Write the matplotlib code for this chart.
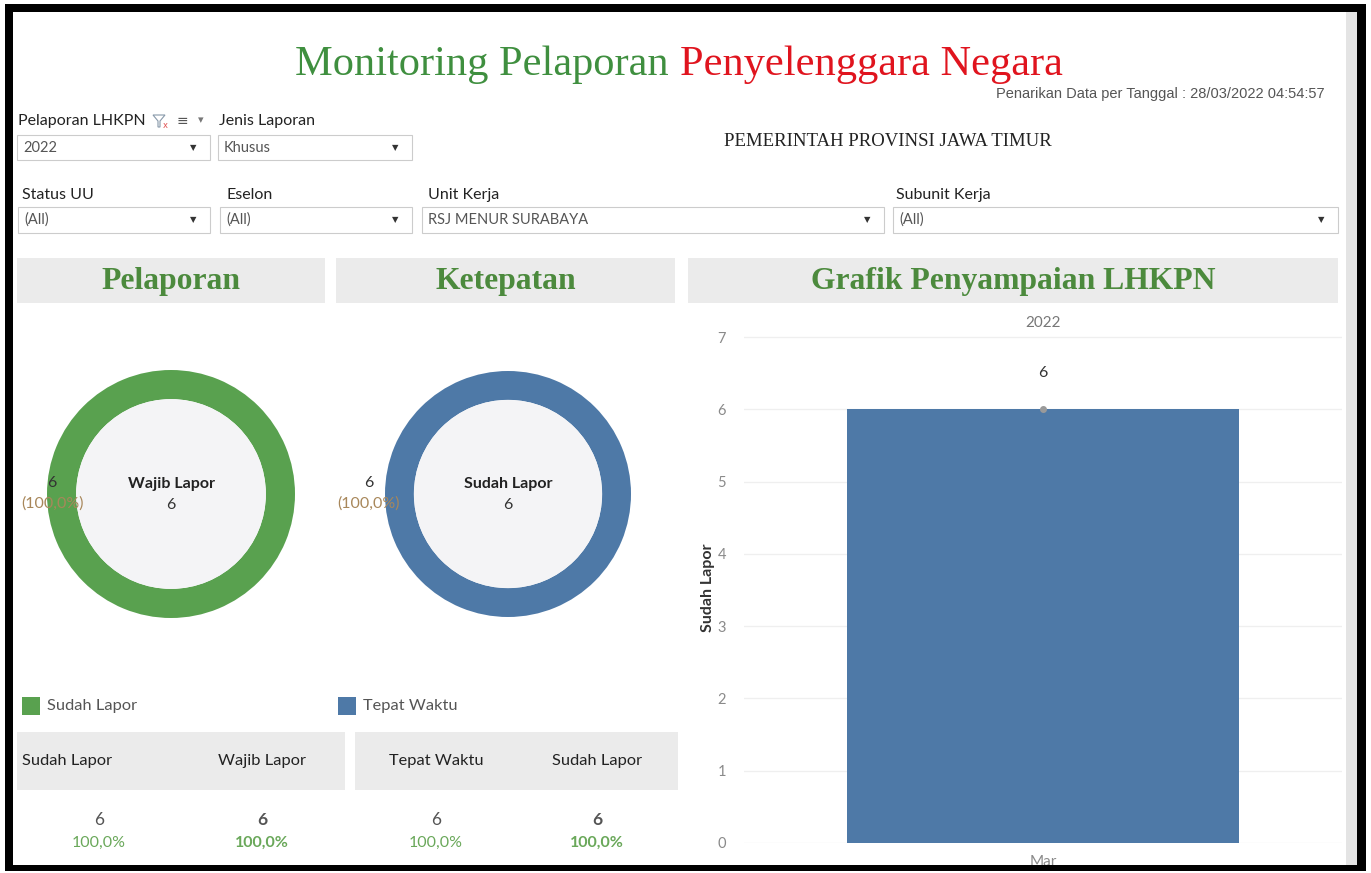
import numpy as np
import matplotlib
matplotlib.use('Agg')
import matplotlib.pyplot as plt
from matplotlib.patches import Rectangle, Circle, Polygon

W, H = 1371, 873

# ---- data ----
judul_hijau = 'Monitoring Pelaporan '
judul_merah = 'Penyelenggara Negara'
tanggal = 'Penarikan Data per Tanggal : 28/03/2022 04:54:57'
instansi = 'PEMERINTAH PROVINSI JAWA TIMUR'

filter_labels = ['Pelaporan LHKPN', 'Jenis Laporan', 'Status UU', 'Eselon', 'Unit Kerja', 'Subunit Kerja']
filter_values = ['2022', 'Khusus', '(All)', '(All)', 'RSJ MENUR SURABAYA', '(All)']

section_titles = ['Pelaporan', 'Ketepatan', 'Grafik Penyampaian LHKPN']

wajib_lapor = 6
sudah_lapor = 6
tepat_waktu = 6

tahun = '2022'
bulan = ['Mar']
sudah_lapor_bulanan = [6]
y_ticks = [0, 1, 2, 3, 4, 5, 6, 7]

# ---- styles ----
GREEN = '#59a14f'
BLUE = '#4e79a7'
TITLE_GREEN = '#3f8f3f'
TITLE_RED = '#e0141e'
HEAD_GREEN = '#4c8a3d'
PCT_GREEN = '#6aa85a'
PCT_BROWN = '#a8875a'
PANEL = '#ebebeb'
SANS = ['Lato', 'DejaVu Sans']
SERIF = ['Liberation Serif', 'DejaVu Serif']

plt.rcParams['font.family'] = SANS

fig = plt.figure(figsize=(W / 100, H / 100), dpi=100)
fig.patch.set_facecolor('white')

bg = fig.add_axes([0, 0, 1, 1])
bg.set_xlim(0, W)
bg.set_ylim(H, 0)
bg.axis('off')


def px_axes(x0, y0, x1, y1):
    return fig.add_axes([x0 / W, 1 - y1 / H, (x1 - x0) / W, (y1 - y0) / H])


def box(x0, y0, x1, y1, fc, ec='none', lw=0.8, z=1):
    bg.add_patch(Rectangle((x0, y0), x1 - x0, y1 - y0, facecolor=fc, edgecolor=ec, lw=lw, zorder=z))


def pct_text(n, d):
    return f'{n / d * 100:.1f}'.replace('.', ',') + '%'


# scroll strip on the right
box(1346, 12, 1357, 866, '#e4e4e4')

# ---- title ----
t1 = bg.text(0, 75, judul_hijau, color=TITLE_GREEN, fontsize=30.5, family=SERIF, va='baseline')
t2 = bg.text(0, 75, judul_merah, color=TITLE_RED, fontsize=30.5, family=SERIF, va='baseline')
fig.canvas.draw()
w1 = t1.get_window_extent().width
w2 = t2.get_window_extent().width
x_start = 679 - (w1 + w2) / 2
t1.set_x(x_start)
t2.set_x(x_start + w1)

bg.text(1325, 94, tanggal, color='#555555', fontsize=10.5, family=['Liberation Sans', 'DejaVu Sans'],
        ha='right', va='center')
bg.text(888, 142, instansi, color='#222222', fontsize=13.5, family=SERIF, ha='center', va='center')

# ---- filters ----
label_pos = [(18, 121), (219, 121), (22, 195), (226, 195), (428, 195), (896, 195)]
box_pos = [(17, 135, 210, 160), (218, 135, 412, 160), (18, 207, 210, 233),
           (220, 207, 412, 233), (422, 207, 884, 233), (893, 207, 1338, 233)]
for lab, val, (lx, ly), (x0, y0, x1, y1) in zip(filter_labels, filter_values, label_pos, box_pos):
    bg.text(lx, ly, lab, fontsize=11.5, color='#222222', va='center')
    box(x0, y0, x1, y1, 'white', '#cccccc')
    bg.text(x0 + 6, (y0 + y1) / 2, val, fontsize=10.5, color='#555555', va='center')
    bg.text(x1 - 17, (y0 + y1) / 2, '\u25bc', fontsize=6, color='#333333', va='center', ha='center',
            family='DejaVu Sans')

# small icons next to "Pelaporan LHKPN"
bg.add_patch(Polygon([(153, 115), (165, 115), (160, 121), (160, 127), (158, 127), (158, 121)],
                     closed=True, facecolor='none', edgecolor='#8899aa', lw=0.8))
bg.text(165, 125, 'x', fontsize=6, color='#e05050', ha='center', va='center', family='DejaVu Sans')
bg.text(182, 121, '\u2261', fontsize=10, color='#555555', ha='center', va='center', family='DejaVu Sans')
bg.text(201, 120, '\u25be', fontsize=8, color='#777777', ha='center', va='center', family='DejaVu Sans')

# ---- section headers ----
head_pos = [(17, 258, 325, 303), (336, 258, 675, 303), (688, 258, 1338, 303)]
for txt, (x0, y0, x1, y1) in zip(section_titles, head_pos):
    box(x0, y0, x1, y1, PANEL)
    bg.text((x0 + x1) / 2, (y0 + y1) / 2 + 1, txt, fontsize=22.8, fontweight='bold', color=HEAD_GREEN,
            family=SERIF, ha='center', va='center')


# ---- donuts ----
def donut(cx, cy, r, value, total, color, center_label, center_value, label_x):
    ax = px_axes(cx - r, cy - r, cx + r, cy + r)
    vals = [v for v in (value, total - value) if v > 0]
    cols = [color, '#dddddd'][:len(vals)]
    ax.pie(vals, colors=cols, startangle=90, counterclock=False, radius=1,
           wedgeprops=dict(width=0.235, edgecolor='none'))
    ax.add_patch(Circle((0, 0), 1 - 0.235, facecolor='#f4f4f6', edgecolor='none'))
    ax.set_xlim(-1, 1)
    ax.set_ylim(-1, 1)
    ax.axis('off')
    ax.text(0, 0.08, center_label, fontsize=11.5, fontweight='bold', color='#222222', ha='center', va='center')
    ax.text(0, -0.09, str(center_value), fontsize=11.5, color='#333333', ha='center', va='center')
    # mark labels sit on the left edge of the ring, drawn above it
    ax.text(label_x, cy - 11, str(value), fontsize=11.5, color='#333333', ha='center', va='center',
            transform=bg.transData, zorder=5)
    ax.text(label_x, cy + 10, '(' + pct_text(value, total) + ')', fontsize=11.5,
            color=PCT_BROWN, ha='center', va='center', transform=bg.transData, zorder=5)


donut(171, 494, 124, sudah_lapor, wajib_lapor, GREEN, 'Wajib Lapor', wajib_lapor, 52)
donut(508, 494, 123, tepat_waktu, sudah_lapor, BLUE, 'Sudah Lapor', sudah_lapor, 369)

# ---- legends ----
box(22, 697, 40, 715, GREEN)
bg.text(47, 706, 'Sudah Lapor', fontsize=11.8, color='#555555', va='center')
box(338, 697, 356, 715, BLUE)
bg.text(363, 706, 'Tepat Waktu', fontsize=11.8, color='#555555', va='center')

# ---- summary tables ----
box(17, 732, 345, 790, PANEL)
box(355, 732, 678, 790, PANEL)
head_cols = [('Sudah Lapor', 22, 'left'), ('Wajib Lapor', 262, 'center'),
             ('Tepat Waktu', 436, 'center'), ('Sudah Lapor', 597, 'center')]
for txt, x, ha in head_cols:
    bg.text(x, 761, txt, fontsize=11.8, color='#222222', ha=ha, va='center')

nums = [sudah_lapor, wajib_lapor, tepat_waktu, sudah_lapor]
dens = [wajib_lapor, wajib_lapor, sudah_lapor, sudah_lapor]
val_x = [99, 262, 436, 597]
bolds = ['normal', 'bold', 'normal', 'bold']
for n, d, x, fw in zip(nums, dens, val_x, bolds):
    bg.text(x, 820, str(n), fontsize=12.5, color='#555555', ha='center', va='center', fontweight=fw)
    bg.text(x, 843, pct_text(n, d), fontsize=11.5, color=PCT_GREEN,
            ha='center', va='center', fontweight=fw)

# ---- bar chart ----
ax = px_axes(744, 330, 1342, 843)
xpos = np.arange(len(bulan))
bars = ax.bar(xpos, sudah_lapor_bulanan, width=0.656, color=BLUE, zorder=2)
ax.plot(xpos, sudah_lapor_bulanan, 'o', color='#9a9a9a', ms=4, zorder=3)
ax.bar_label(bars, padding=21, fontsize=11.5, color='#333333')
ax.set_xlim(-0.5, 0.5)
ax.set_ylim(0, 7.1)
ax.set_yticks(y_ticks)
ax.set_xticks(xpos)
ax.set_xticklabels(bulan)
ax.tick_params(axis='y', length=0, pad=13, labelsize=10.5, labelcolor='#8a8a8a')
ax.tick_params(axis='x', length=0, pad=9, labelsize=11, labelcolor='#8a8a8a')
ax.grid(axis='y', color='#efefef', lw=0.9, zorder=0)
for s in ax.spines.values():
    s.set_visible(False)
ax.text(0.5, 1.0, tahun, transform=ax.transAxes, ha='center', va='bottom', fontsize=11, color='#777777')
bg.text(708, 588, 'Sudah Lapor', rotation=90, fontsize=11.5, color='#333333', fontweight='bold',
        ha='center', va='center')

# ---- black frame on top ----
for x0, y0, x1, y1 in [(5, 4, 1366, 12), (5, 865, 1366, 871), (5, 4, 13, 871), (1357, 4, 1366, 871)]:
    fig.add_artist(Rectangle((x0, y0), x1 - x0, y1 - y0, facecolor='black', edgecolor='none',
                             transform=bg.transData, zorder=10))

fig.savefig('out.png', dpi=100, facecolor='white')
